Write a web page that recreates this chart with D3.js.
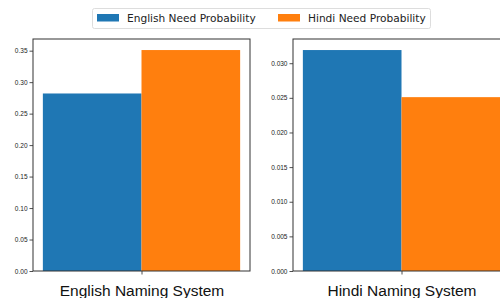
<!DOCTYPE html>
<html>
<head>
<meta charset="utf-8">
<script src="https://cdn.jsdelivr.net/npm/d3@7"></script>
<style>
  body { margin: 0; background: #fff; }
  svg { font-family: "DejaVu Sans", sans-serif; display: block; }
</style>
</head>
<body>
<svg width="500" height="298"></svg>
<script>
// Series and panel data
const seriesNames = ["English Need Probability", "Hindi Need Probability"];
const seriesColors = ["#1f77b4", "#ff7f0e"];
const panelNames = ["English Naming System", "Hindi Naming System"];
const englishPanelValues = [0.282, 0.351];
const hindiPanelValues = [0.0319, 0.0251];
const englishTicks = [0, 0.05, 0.10, 0.15, 0.20, 0.25, 0.30, 0.35];
const hindiTicks = [0, 0.005, 0.010, 0.015, 0.020, 0.025, 0.030];

const svg = d3.select("svg");

const panels = [
  { name: panelNames[0], values: englishPanelValues, ticks: englishTicks, fmt: d3.format(".2f"), left: 33 },
  { name: panelNames[1], values: hindiPanelValues, ticks: hindiTicks, fmt: d3.format(".3f"), left: 293 }
];

const plotTop = 39, plotBottom = 271, panelWidth = 217;

panels.forEach(p => {
  const g = svg.append("g");

  // matplotlib-like 5% margins
  const y = d3.scaleLinear()
      .domain([0, d3.max(p.values) * 1.05])
      .range([plotBottom, plotTop]);

  // two bars of width 0.35 around center 0, xlim with 5% margins
  const w = 0.35;
  const span = 2 * w;
  const x = d3.scaleLinear()
      .domain([-w - span * 0.05, w + span * 0.05])
      .range([p.left, p.left + panelWidth]);

  g.selectAll("rect.bar")
    .data(p.values)
    .enter().append("rect")
      .attr("class", "bar")
      .attr("x", (d, i) => x(i === 0 ? -w : 0))
      .attr("width", x(w) - x(0))
      .attr("y", d => y(d))
      .attr("height", d => y(0) - y(d))
      .attr("fill", (d, i) => seriesColors[i]);

  // y axis
  const yAxis = d3.axisLeft(y)
      .tickValues(p.ticks)
      .tickFormat(p.fmt)
      .tickSize(3.5)
      .tickPadding(2);
  const ya = g.append("g")
      .attr("transform", `translate(${p.left},0)`)
      .call(yAxis);
  ya.select(".domain").remove();
  ya.selectAll("text").attr("font-size", 6.5).attr("fill", "#222");
  ya.selectAll("line").attr("stroke", "#222").attr("stroke-width", 0.8);

  // x axis
  const xAxis = d3.axisBottom(x)
      .tickValues([0])
      .tickFormat(() => p.name)
      .tickSize(3.5)
      .tickPadding(10.5);
  const xa = g.append("g")
      .attr("transform", `translate(0,${plotBottom})`)
      .call(xAxis);
  xa.select(".domain").remove();
  xa.selectAll("text").attr("font-size", 15.5).attr("fill", "#111");
  xa.selectAll("line").attr("stroke", "#222").attr("stroke-width", 0.8);

  // spines
  g.append("rect")
      .attr("x", p.left)
      .attr("y", plotTop)
      .attr("width", panelWidth)
      .attr("height", plotBottom - plotTop)
      .attr("fill", "none")
      .attr("stroke", "#333")
      .attr("stroke-width", 1);
});

// Legend
const legend = svg.append("g");
legend.append("rect")
    .attr("x", 92.5).attr("y", 8.5)
    .attr("width", 338).attr("height", 20)
    .attr("rx", 2)
    .attr("fill", "#fff")
    .attr("stroke", "#ddd");

const legendX = [97, 278];
seriesNames.forEach((s, i) => {
  legend.append("rect")
      .attr("x", legendX[i]).attr("y", 14)
      .attr("width", 22).attr("height", 7.5)
      .attr("fill", seriesColors[i]);
  legend.append("text")
      .attr("x", legendX[i] + 30).attr("y", 21.5)
      .attr("font-size", 10.6)
      .attr("fill", "#222")
      .text(s);
});
</script>
</body>
</html>
